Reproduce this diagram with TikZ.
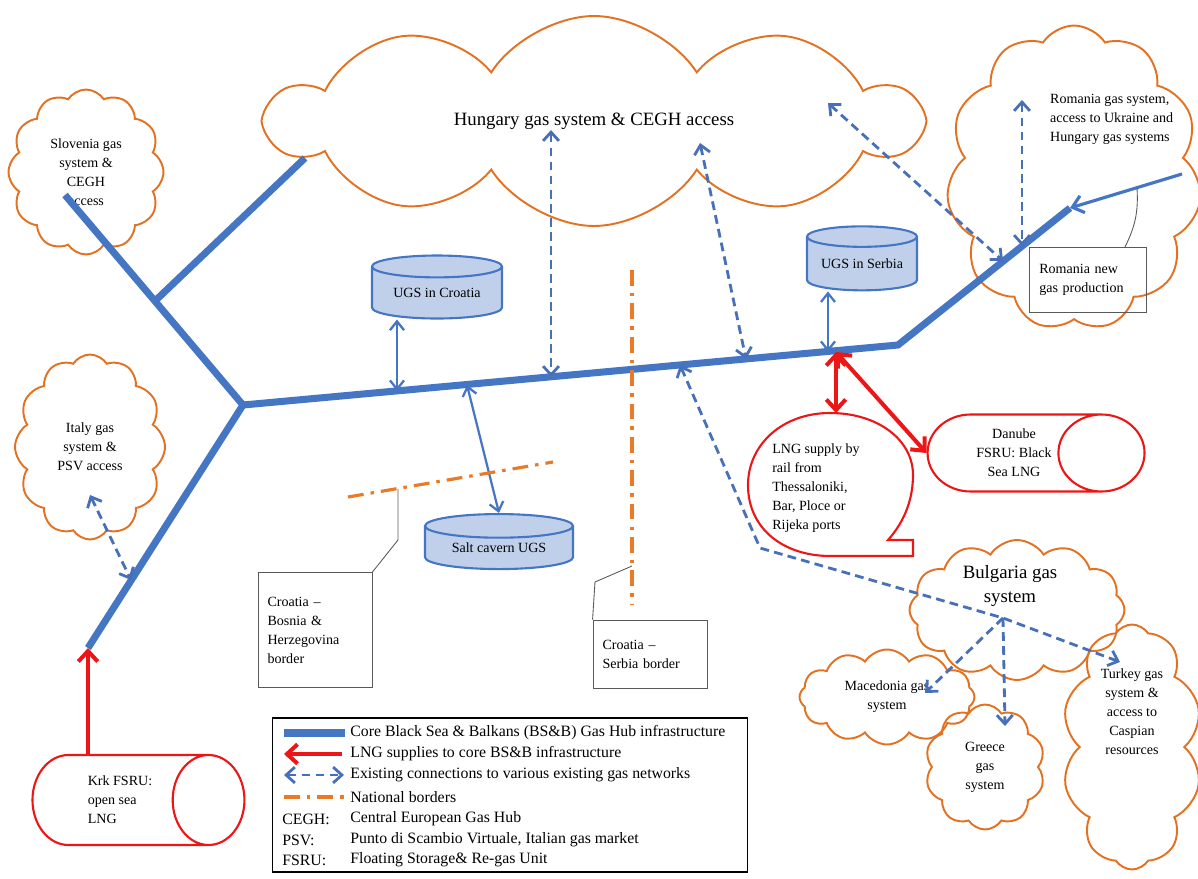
\documentclass[tikz,border=0pt]{standalone}
\usepackage{fontspec}
\setmainfont{Liberation Serif}
\usetikzlibrary{shapes,arrows.meta,positioning,calc}

\definecolor{pipeblue}{RGB}{68,118,196}
\definecolor{linkblue}{RGB}{72,112,184}
\definecolor{cloudorange}{RGB}{226,114,34}
\definecolor{lngred}{RGB}{236,22,22}
\definecolor{ugsfill}{RGB}{192,208,234}
\definecolor{bordercol}{RGB}{232,122,40}

\newcommand{\notefont}{\fontsize{8}{10.8}\selectfont}
\newcommand{\bigfont}{\fontsize{10.7}{13.5}\selectfont}
\newcommand{\legfont}{\fontsize{9}{12}\selectfont}

\begin{document}
\begin{tikzpicture}[
    x=0.02cm, y=-0.02cm,
    pipe/.style={pipeblue, line width=4pt},
    prod/.style={pipeblue, line width=1.8pt, -{Straight Barb[length=6pt,width=10pt]}},
    lng/.style={lngred, line width=2.3pt, -{Straight Barb[length=6pt,width=11pt]}},
    lngboth/.style={lngred, line width=2.3pt, {Straight Barb[length=6pt,width=11pt]}-{Straight Barb[length=6pt,width=11pt]}},
    link/.style={linkblue, line width=1.6pt, dash pattern=on 5pt off 3pt, {Straight Barb[length=5pt,width=9pt]}-{Straight Barb[length=5pt,width=9pt]}},
    linkone/.style={linkblue, line width=1.6pt, dash pattern=on 5pt off 3pt, -{Straight Barb[length=5pt,width=9pt]}},
    ugslink/.style={pipeblue, line width=1.3pt, {Straight Barb[length=5pt,width=8pt]}-{Straight Barb[length=5pt,width=8pt]}},
    natborder/.style={bordercol, line width=1.8pt, dash pattern=on 9pt off 4pt on 2pt off 4pt},
    net/.style={cloud, draw=cloudorange, line width=1.1pt, cloud ignores aspect, cloud puffs=11, cloud puff arc=115, align=center, font=\notefont, inner sep=0pt},
    ugs/.style={cylinder, shape border rotate=90, draw=pipeblue, fill=ugsfill, line width=1.2pt, aspect=0.25, font=\notefont, inner sep=0pt},
    fsru/.style={cylinder, draw=lngred, line width=1.2pt, aspect=1.5, align=left, font=\notefont, inner sep=0pt},
    notebox/.style={draw=gray!70!black, line width=0.5pt, align=left, font=\notefont, inner sep=5pt},
    leader/.style={gray!70!black, line width=0.5pt}
]
\useasboundingbox (0,0) rectangle (1198,879);

% Neighbouring gas systems
\node[net, cloud puffs=10, minimum width=13cm, minimum height=4.2cm, font=\bigfont] (hungary) at (594,121) {Hungary gas system \& CEGH access};
\node[net, cloud puffs=12, minimum width=3.1cm, minimum height=3.3cm] (slovenia) at (86,172) {Slovenia gas\\system \&\\CEGH\\access};
\node[net, cloud puffs=11, minimum width=5.1cm, minimum height=6.1cm] (romania) at (1074,178) {};
\node[align=left, font=\notefont, anchor=west] (romtext) at (1044,119) {Romania gas system,\\access to Ukraine and\\Hungary gas systems};
\node[net, cloud puffs=12, minimum width=3cm, minimum height=3.7cm] (italy) at (90,447) {Italy gas\\system \&\\PSV access};
\node[net, cloud puffs=12, minimum width=4.3cm, minimum height=2.8cm] (bulgaria) at (1017,610) {};
\node[align=center, font=\bigfont] (bgtext) at (1010,586) {Bulgaria gas\\system};
\node[net, cloud puffs=12, minimum width=3.5cm, minimum height=1.9cm] (macedonia) at (887,697) {Macedonia gas\\system};
\node[net, cloud puffs=10, minimum width=2.4cm, minimum height=2.5cm] (greece) at (985,767) {Greece\\gas\\system};
\node[net, cloud puffs=10, minimum width=2.8cm, minimum height=4.9cm] (turkey) at (1132,747) {};
\node[align=center, font=\notefont] (tktext) at (1132,712) {Turkey gas\\system \&\\access to\\Caspian\\resources};

% Storage
\node[ugs, minimum width=2.6cm, minimum height=1.26cm] (ugscro) at (437,293) {UGS in Croatia};
\node[ugs, minimum width=2.2cm, minimum height=1.28cm] (ugsser) at (862,264) {UGS in Serbia};
\node[ugs, minimum width=2.96cm, minimum height=1.1cm] (salt) at (499,548) {Salt cavern UGS};

% LNG
\node[fsru, minimum height=4.24cm, minimum width=1.8cm] (krk) at (120,800) {Krk FSRU:\\open sea\\LNG};
\node[fsru, aspect=1.8, minimum height=4.34cm, minimum width=1.54cm, align=center] (danube) at (1014,453) {Danube\\FSRU: Black\\Sea LNG};
\node[align=left, font=\notefont] (lngrail) at (816,488) {LNG supply by\\rail from\\Thessaloniki,\\Bar, Ploce or\\Rijeka ports};
\draw[lngred, line width=1.2pt] (888,540) .. controls (906,520) and (913,497) .. (913,475)
  .. controls (913,440) and (878,413) .. (830,413)
  .. controls (782,413) and (748,445) .. (748,485)
  .. controls (748,530) and (785,556) .. (830,556)
  -- (913,556) -- (913,540) -- cycle;
\coordinate (lngtop) at (836,413);

% Core pipeline
\coordinate (slo) at (65,195);
\coordinate (fork) at (155,301);
\coordinate (hub) at (305,158);
\coordinate (jn) at (243,405);
\coordinate (sw) at (88,648);
\coordinate (bend) at (898,345);
\coordinate (ne) at (1070,208);
\coordinate (romsrc) at (1182,174);
\draw[pipe] (slo) -- (jn) -- (sw);
\draw[pipe] (fork) -- (hub);
\draw[pipe] (jn) -- (bend) -- (ne);
\draw[prod] (romsrc) -- (ne);

% Taps on the pipeline
\coordinate (tapcro) at (397,391);
\coordinate (tapsalt) at (467,385);
\coordinate (taphu1) at (551,377);
\coordinate (tapbg) at (680,365);
\coordinate (taphu2) at (746,359);
\coordinate (tapser) at (828,352);
\coordinate (tapln) at (836,352);
\coordinate (tapro1) at (1003,261);
\coordinate (taprom) at (1022,246);
\coordinate (tapit) at (131,580);

% Ends in the clouds
\coordinate (hu1) at (551,130);
\coordinate (hu2) at (700,143);
\coordinate (hu3) at (828,103);
\coordinate (rom) at (1022,100);
\coordinate (it) at (90,495);
\coordinate (bgbend) at (760,548);
\coordinate (bghub) at (1003,618);
\coordinate (tkin) at (1120,662);
\coordinate (mkin) at (925,693);
\coordinate (grin) at (1005,726);

% Connections
\draw[ugslink] (tapcro |- ugscro.south) -- (tapcro);
\draw[ugslink] (tapser |- ugsser.south) -- (tapser);
\draw[ugslink] (tapsalt) -- (salt.north);
\draw[link] (hu1) -- (taphu1);
\draw[link] (hu2) -- (taphu2);
\draw[link] (hu3) -- (tapro1);
\draw[link] (rom) -- (taprom);
\draw[link] (it) -- (tapit);
\draw[link] (tapbg) -- (bgbend) -- (bghub) -- (tkin);
\draw[linkone] (bghub) -- (mkin);
\draw[linkone] (bghub) -- (grin);
\draw[lng] (krk.north -| sw) -- (sw);
\draw[lngboth] (tapln) -- (lngtop);
\draw[lngboth] (tapln) -- (danube.west);

% Borders
\coordinate (hrrs1) at (632,270);
\coordinate (hrrs2) at (632,605);
\coordinate (hrba1) at (348,497);
\coordinate (hrba2) at (553,462);
\draw[natborder] (hrrs1) -- (hrrs2);
\draw[natborder] (hrba1) -- (hrba2);

% Notes
\node[notebox, minimum width=2.28cm, minimum height=2.3cm, text width=1.9cm] (bhnote) at (315,630) {Croatia --\\Bosnia \&\\Herzegovina\\border};
\node[notebox, minimum width=2.28cm, minimum height=1.36cm, text width=1.9cm] (rsnote) at (650,654) {Croatia --\\Serbia border};
\node[notebox, minimum width=2.34cm, minimum height=1.3cm, text width=1.95cm] (romprod) at (1088,280) {Romania new\\gas production};
\draw[leader] (bhnote.north east) -- (398,540) -- (398,489);
\draw[leader] (rsnote.north west) -- (595,582) -- (632,566);
\draw[leader] ($(romprod.north east)+(-22,0)$) to[bend right=15] (1137,188);

% Legend
\node[draw, line width=0.6pt, minimum width=9.52cm, minimum height=3.08cm] (legend) at (510,795) {};
\draw[pipeblue, line width=4pt] (284,733) -- (345,733);
\draw[lng] (342,754) -- (284,754);
\draw[link] (284,775) -- (344,775);
\draw[natborder] (284,797) -- (344,797);
\foreach \y/\txt [count=\i] in {733/Core Black Sea \& Balkans (BS\&B) Gas Hub infrastructure,
    754/LNG supplies to core BS\&B infrastructure,
    775/Existing connections to various existing gas networks,
    797/National borders,
    819/Central European Gas Hub,
    840/{Punto di Scambio Virtuale, Italian gas market},
    860/Floating Storage\& Re-gas Unit}
  \node[anchor=west, font=\legfont, inner sep=0pt] (leg\i) at (350,\y) {\txt};
\foreach \y/\abbr [count=\i] in {819/CEGH:, 840/PSV:, 860/FSRU:}
  \node[anchor=west, font=\legfont, inner sep=0pt] (abbr\i) at (282,\y) {\abbr};

\end{tikzpicture}
\end{document}
